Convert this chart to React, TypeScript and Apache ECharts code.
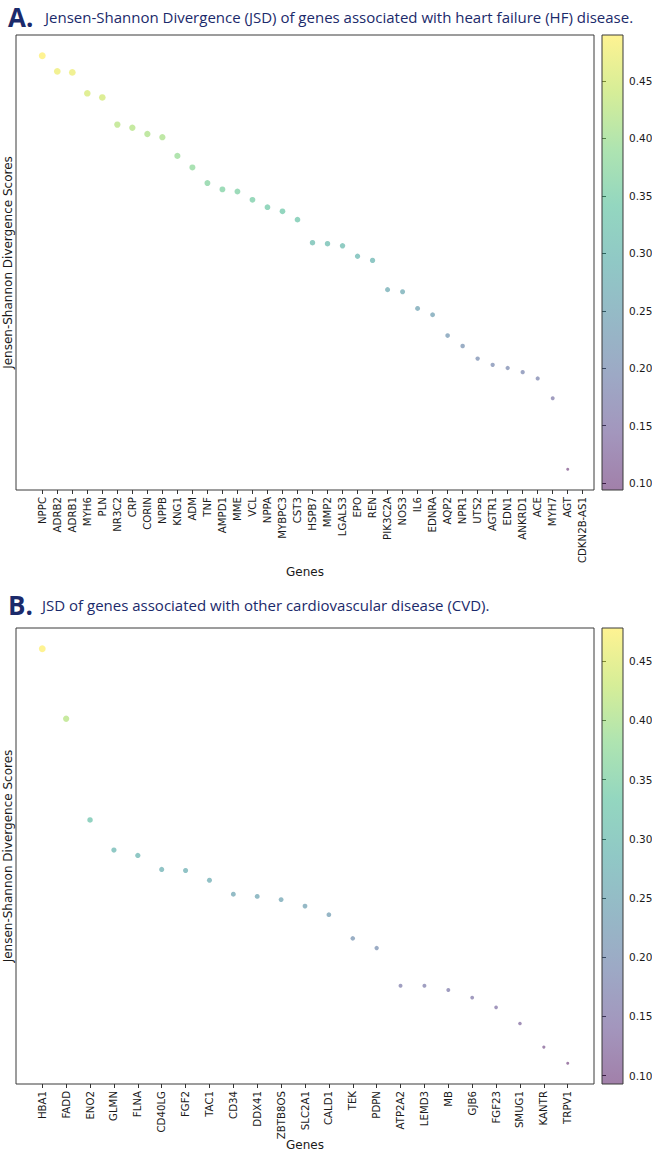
import React, { useEffect, useRef } from "react";
import * as echarts from "echarts";

// ---------------- data ----------------
const genesA = [
  "NPPC", "ADRB2", "ADRB1", "MYH6", "PLN", "NR3C2", "CRP", "CORIN", "NPPB", "KNG1",
  "ADM", "TNF", "AMPD1", "MME", "VCL", "NPPA", "MYBPC3", "CST3", "HSPB7", "MMP2",
  "LGALS3", "EPO", "REN", "PIK3C2A", "NOS3", "IL6", "EDNRA", "AQP2", "NPR1", "UTS2",
  "AGTR1", "EDN1", "ANKRD1", "ACE", "MYH7", "AGT", "CDKN2B-AS1",
];
const jsdA: (number | null)[] = [
  0.490, 0.475, 0.474, 0.454, 0.450, 0.424, 0.421, 0.415, 0.412, 0.394,
  0.383, 0.368, 0.362, 0.360, 0.352, 0.345, 0.341, 0.333, 0.311, 0.310,
  0.308, 0.298, 0.294, 0.266, 0.264, 0.248, 0.242, 0.222, 0.212, 0.200,
  0.194, 0.191, 0.187, 0.181, 0.162, 0.094, null,
];

const genesB = [
  "HBA1", "FADD", "ENO2", "GLMN", "FLNA", "CD40LG", "FGF2", "TAC1", "CD34", "DDX41",
  "ZBTB8OS", "SLC2A1", "CALD1", "TEK", "PDPN", "ATP2A2", "LEMD3", "MB", "GJB6", "FGF23",
  "SMUG1", "KANTR", "TRPV1",
];
const jsdB: (number | null)[] = [
  0.478, 0.413, 0.319, 0.291, 0.286, 0.273, 0.272, 0.263, 0.250, 0.248,
  0.245, 0.239, 0.231, 0.209, 0.200, 0.165, 0.165, 0.161, 0.154, 0.145,
  0.130, 0.108, 0.093,
];

const colorbarTicks = [0.1, 0.15, 0.2, 0.25, 0.3, 0.35, 0.4, 0.45];

const titleLetterA = "A.";
const titleTextA = "Jensen-Shannon Divergence (JSD) of genes associated with heart failure (HF) disease.";
const titleLetterB = "B.";
const titleTextB = "JSD of genes associated with other cardiovascular disease (CVD).";
const yName = "Jensen-Shannon Divergence Scores";
const xName = "Genes";

// ---------------- styling ----------------
const VIRIDIS = ["#440154", "#472d7b", "#3b528b", "#2c728e", "#21918c", "#28ae80", "#5ec962", "#addc30", "#fde725"];
const NAVY = "#1b2a6b";
const TICK_FONT = "'DejaVu Sans', Verdana, sans-serif";

function withAlpha(hex: string, a: number) {
  const r = parseInt(hex.slice(1, 3), 16);
  const g = parseInt(hex.slice(3, 5), 16);
  const b = parseInt(hex.slice(5, 7), 16);
  return `rgba(${r},${g},${b},${a})`;
}

function buildPanel(
  genes: string[],
  vals: (number | null)[],
  top: number,
  height: number,
  gridBase: number,
  seriesBase: number,
  nameGapX: number
) {
  const pts = vals
    .map((v, i) => (v == null ? null : [i, v]))
    .filter((p) => p != null) as number[][];
  const ys = pts.map((p) => p[1]);
  const lo = Math.min(...ys);
  const hi = Math.max(...ys);
  const span = hi - lo;
  const xs = pts.map((p) => p[0]);
  const xlo = Math.min(...xs);
  const xhi = Math.max(...xs);
  const xspan = xhi - xlo;
  const idx = genes.map((_, i) => i);

  const plotLeft = 16;
  const plotWidth = 578;
  const cbLeft = 602;
  const cbWidth = 21;

  const grids = [
    {
      left: plotLeft, top, width: plotWidth, height, show: true,
      borderColor: "#3a3a3a", borderWidth: 1, backgroundColor: "transparent",
      containLabel: false, outerBoundsMode: "none",
    },
    { left: cbLeft, top, width: cbWidth, height, show: false, containLabel: false, outerBoundsMode: "none" },
  ];

  const xAxes = [
    {
      gridIndex: gridBase,
      type: "value",
      min: xlo - 0.05 * xspan,
      max: xhi + 0.05 * xspan,
      axisLine: { show: false },
      splitLine: { show: false },
      axisTick: { show: true, customValues: idx, length: 4, lineStyle: { color: "#333", width: 1 } },
      axisLabel: {
        customValues: idx,
        formatter: (v: number) => genes[Math.round(v)] ?? "",
        rotate: 90,
        fontSize: 10.2,
        fontFamily: TICK_FONT,
        color: "#1a1a1a",
        margin: 7,
        hideOverlap: false,
      },
      name: xName,
      nameLocation: "middle",
      nameGap: nameGapX,
      nameMoveOverlap: false,
      nameTextStyle: { fontSize: 12, fontFamily: TICK_FONT, color: "#1a1a1a" },
    },
    { gridIndex: gridBase + 1, type: "value", min: 0, max: 1, show: false },
  ];

  const yAxes = [
    {
      gridIndex: gridBase,
      type: "value",
      min: lo - 0.05 * span,
      max: hi + 0.05 * span,
      axisLine: { show: false },
      axisTick: { show: false },
      axisLabel: { show: false },
      splitLine: { show: false },
      name: yName,
      nameLocation: "middle",
      nameRotate: 90,
      nameGap: 2,
      nameMoveOverlap: false,
      nameTextStyle: { fontSize: 12, fontFamily: TICK_FONT, color: "#1a1a1a" },
    },
    {
      gridIndex: gridBase + 1,
      type: "value",
      position: "right",
      min: lo,
      max: hi,
      axisLine: { show: false },
      splitLine: { show: false },
      axisTick: { show: true, customValues: colorbarTicks, length: 4, lineStyle: { color: "#333", width: 1 } },
      axisLabel: {
        customValues: colorbarTicks,
        formatter: (v: number) => v.toFixed(2),
        fontSize: 10.5,
        fontFamily: TICK_FONT,
        color: "#1a1a1a",
        margin: 6,
      },
    },
  ];

  const gradStops = VIRIDIS.slice()
    .reverse()
    .map((c, i, arr) => ({ offset: i / (arr.length - 1), color: withAlpha(c, 0.5) }));

  const series = [
    {
      type: "scatter",
      xAxisIndex: gridBase,
      yAxisIndex: gridBase,
      data: pts,
      symbol: "circle",
      symbolSize: (v: number[]) => 9.8 * Math.sqrt(v[1]),
      itemStyle: { opacity: 0.5 },
      emphasis: { disabled: true },
      silent: true,
    },
    {
      type: "custom",
      xAxisIndex: gridBase + 1,
      yAxisIndex: gridBase + 1,
      data: [[0.5, hi]],
      silent: true,
      renderItem: (params: any) => {
        const cs = params.coordSys;
        return {
          type: "rect",
          shape: { x: cs.x, y: cs.y, width: cs.width, height: cs.height },
          style: {
            fill: new echarts.graphic.LinearGradient(0, 0, 0, 1, gradStops),
            stroke: "#3a3a3a",
            lineWidth: 1,
          },
        };
      },
    },
  ];

  const visualMap = {
    type: "continuous",
    show: false,
    seriesIndex: seriesBase,
    dimension: 1,
    min: lo,
    max: hi,
    inRange: { color: VIRIDIS },
  };

  return { grids, xAxes, yAxes, series, visualMap };
}

export default function App() {
  const ref = useRef<HTMLDivElement | null>(null);

  useEffect(() => {
    if (!ref.current) return;
    const chart = echarts.init(ref.current, null, { renderer: "svg" });

    const pA = buildPanel(genesA, jsdA, 35, 455, 0, 0, 76);
    const pB = buildPanel(genesB, jsdB, 628, 456, 2, 2, 55);

    const titleFont = "'Open Sans', sans-serif";
    const option: any = {
      animation: false,
      backgroundColor: "#ffffff",
      title: [
        { text: titleLetterA, left: 8, top: 4, padding: 0, textStyle: { fontSize: 26, fontWeight: "bold", color: NAVY, fontFamily: titleFont, lineHeight: 26 } },
        { text: titleTextA, left: 45, top: 8, padding: 0, textStyle: { fontSize: 15, fontWeight: "normal", color: NAVY, fontFamily: titleFont, lineHeight: 18 } },
        { text: titleLetterB, left: 8, top: 592, padding: 0, textStyle: { fontSize: 26, fontWeight: "bold", color: NAVY, fontFamily: titleFont, lineHeight: 26 } },
        { text: titleTextB, left: 42, top: 596, padding: 0, textStyle: { fontSize: 15, fontWeight: "normal", color: NAVY, fontFamily: titleFont, lineHeight: 18 } },
      ],
      grid: [...pA.grids, ...pB.grids],
      xAxis: [...pA.xAxes, ...pB.xAxes],
      yAxis: [...pA.yAxes, ...pB.yAxes],
      series: [...pA.series, ...pB.series],
      visualMap: [pA.visualMap, pB.visualMap],
    };

    chart.setOption(option);
    return () => chart.dispose();
  }, []);

  return (
    <div
      ref={ref}
      style={{ position: "absolute", left: 0, top: 0, width: 652, height: 1151, background: "#fff" }}
    />
  );
}
